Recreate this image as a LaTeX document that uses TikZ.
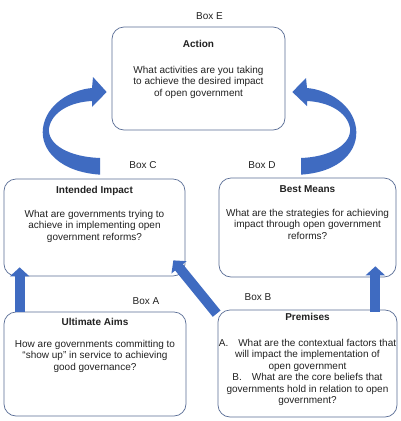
\documentclass[tikz,border=0pt]{standalone}
\usepackage{fontspec}
\setmainfont{Liberation Sans}
\usetikzlibrary{arrows.meta, positioning, calc}
\definecolor{arrowblue}{HTML}{3F6BC1}
\definecolor{boxline}{HTML}{5A6E96}
\definecolor{txtdark}{HTML}{222222}

\begin{document}
\begin{tikzpicture}[
  x=1pt, y=-1pt,
  box/.style={draw=boxline, line width=0.7pt, rounded corners=12pt, fill=white},
  boxtitle/.style={font=\fontsize{10}{11}\selectfont\bfseries, text=txtdark,
    inner sep=0pt, text height=7pt, text depth=2pt},
  boxtext/.style={font=\fontsize{10}{11.5}\selectfont, text=txtdark,
    align=center, inner sep=0pt},
  boxlabel/.style={font=\fontsize{10}{11}\selectfont, text=txtdark,
    inner sep=0pt, text height=7pt, text depth=2pt},
  blockarrow/.style={arrowblue, line width=10pt, -{Triangle[length=9pt, width=19pt]}},
  curvearrow/.style={fill=arrowblue, draw=none},
]

% Canvas
\useasboundingbox[fill=white] (0,0) rectangle (401,421);

% === Box E ===
\node[box, minimum width=173pt, minimum height=103pt] (boxE) at (198.5,78.5) {};
\node[boxlabel, above=4.5pt of boxE.north, xshift=11pt] (labE) {Box E};
\node[boxtitle, below=13.5pt of boxE.north] (actT) {Action};
\node[boxtext, below=16pt of actT] (actB)
  {What activities are you taking\\to achieve the desired impact\\of open government};

% === Box C ===
\node[box, minimum width=181pt, minimum height=97pt] (boxC) at (94.5,227.5) {};
\node[boxlabel, above=7.5pt of boxC.north, xshift=48.5pt] (labC) {Box C};
\node[boxtitle, below=7.5pt of boxC.north] (impT) {Intended Impact};
\node[boxtext, below=14pt of impT] (impB)
  {What are governments  trying to\\achieve in implementing open\\government  reforms?};

% === Box D ===
\node[box, minimum width=177pt, minimum height=99pt] (boxD) at (307.5,227.5) {};
\node[boxlabel, above=6.5pt of boxD.north, xshift=-45.5pt] (labD) {Box D};
\node[boxtitle, below=7.5pt of boxD.north] (meaT) {Best Means};
\node[boxtext, below=14pt of meaT] (meaB)
  {What are the strategies for achieving\\impact through open government\\reforms?};

% === Box A ===
\node[box, minimum width=182pt, minimum height=104pt] (boxA) at (95,364) {};
\node[boxlabel, above=4.5pt of boxA.north, xshift=51pt] (labA) {Box A};
\node[boxtitle, below=6.5pt of boxA.north] (aimT) {Ultimate Aims};
\node[boxtext, below=12pt of aimT] (aimB)
  {How are governments  committing to\\``show up'' in service  to achieving\\good governance?};

% === Box B ===
\node[box, minimum width=179pt, minimum height=107pt] (boxB) at (307.5,363.5) {};
\node[boxlabel, above=6.5pt of boxB.north, xshift=-49.5pt] (labB) {Box B};
\node[boxtitle, below=3.5pt of boxB.north] (preT) {Premises};
\node[boxtext, below=16pt of preT] (preB)
  {A.\quad What are the contextual factors that\\will impact the implementation of\\open government\\
   B.\quad What are the core beliefs that\\governments  hold in relation to open\\government?};

% === Straight arrows ===
\coordinate (aTail) at ($(boxA.north west)+(16,0)$);
\coordinate (cTipA) at ($(boxC.south west)+(16,-9)$);
\draw[blockarrow] (aTail) -- (cTipA);

\coordinate (bTail) at ($(boxB.north west)+(-1,4)$);
\coordinate (cTipB) at ($(boxC.south east)+(-12,-16)$);
\draw[blockarrow] (bTail) -- (cTipB);

\coordinate (bTailD) at ($(boxB.north east)+(-22,2)$);
\coordinate (dTip) at ($(boxD.south east)+(-21,-11)$);
\draw[blockarrow] (bTailD) -- (dTip);

% === Curved arrows into Box E ===
% tail is wide, band thins round the bend, head points at Box E
\coordinate (cTail) at ($(boxC.north)+(5.5,-4)$);
\coordinate (eTipL) at ($(boxE.west)+(-5,13.5)$);
\fill[curvearrow] (cTail) .. controls (60,172) and (40,150) .. (43,128)
  .. controls (46,105) and (70,90) .. (92,88) -- (93,77) -- (eTipL)
  -- (92,107) -- (92,101) .. controls (70,102) and (52,112) .. (49,128)
  .. controls (47,145) and (70,157) .. (100,158) -- cycle;

\coordinate (dTail) at ($(boxD.north)+(-6.5,-3)$);
\coordinate (eTipR) at ($(boxE.east)+(7,13.5)$);
\fill[curvearrow] (dTail) .. controls (341,172) and (359,150) .. (356,128)
  .. controls (353,105) and (329,90) .. (307,88) -- (306,78) -- (eTipR)
  -- (307,106) -- (307,101) .. controls (329,102) and (347,112) .. (350,128)
  .. controls (352,145) and (329,157) .. (301,158) -- cycle;

\end{tikzpicture}
\end{document}
